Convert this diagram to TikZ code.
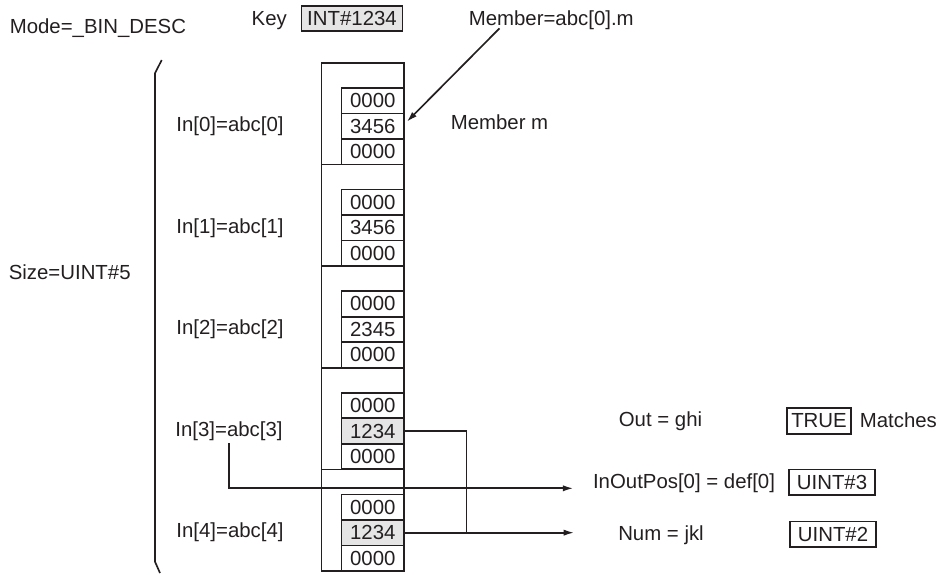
\documentclass[tikz,border=0pt]{standalone}
\usepackage{fontspec}
\setmainfont{Liberation Sans}
\usepackage{tikz}
\usetikzlibrary{positioning, arrows.meta, calc}
\definecolor{cellgray}{RGB}{229, 229, 229}
\definecolor{ink}{RGB}{35, 31, 32}

\tikzset{
  cell/.style={draw, minimum width=1.25cm, minimum height=0.51cm, inner sep=0pt},
  hitcell/.style={cell, fill=cellgray},
  valbox/.style={draw, minimum height=0.51cm, inner sep=0pt},
  lbl/.style={inner sep=0pt},
  flow/.style={-{Latex[length=6pt, width=3.6pt]}},
}

\begin{document}
\begin{tikzpicture}[font=\fontsize{11.6}{14}\selectfont, line width=0.95pt, draw=ink, text=ink]
  \useasboundingbox (0,0) rectangle (18.8,-11.48);

  % Header: mode, key and member
  \node[lbl, anchor=west] (mode) at (0.18,-0.56) {Mode=\_BIN\_DESC};
  \node[valbox, fill=cellgray, minimum width=2.02cm] (key) at (7.04,-0.37) {INT\#1234};
  \node[lbl, anchor=base east] (keylbl) at ($(key.base west)+(-0.26,0)$) {Key};
  \node[lbl, anchor=west] (member) at (9.36,-0.4) {Member=abc[0].m};
  \node[lbl, anchor=west] (memberm) at (9.0,-2.44) {Member m};

  % Size bracket
  \node[lbl, anchor=west] (size) at (0.16,-5.44) {Size=UINT\#5};
  \draw (3.234,-1.2) -- (3.10,-1.466) -- (3.10,-11.234) -- (3.20,-11.46);

  % Element 0
  \draw (6.43,-1.26) rectangle (8.08,-3.292);
  \node[cell] (c00) at (7.455,-2.015) {0000};
  \node[cell] (c01) at (7.455,-2.525) {3456};
  \node[cell] (c02) at (7.455,-3.035) {0000};
  \node[lbl] (in0) at (4.6,-2.525) {In[0]=abc[0]};

  % Element 1
  \draw (6.43,-3.292) rectangle (8.08,-5.324);
  \node[cell] (c10) at (7.455,-4.047) {0000};
  \node[cell] (c11) at (7.455,-4.557) {3456};
  \node[cell] (c12) at (7.455,-5.067) {0000};
  \node[lbl] (in1) at (4.6,-4.557) {In[1]=abc[1]};

  % Element 2
  \draw (6.43,-5.324) rectangle (8.08,-7.356);
  \node[cell] (c20) at (7.455,-6.079) {0000};
  \node[cell] (c21) at (7.455,-6.589) {2345};
  \node[cell] (c22) at (7.455,-7.099) {0000};
  \node[lbl] (in2) at (4.6,-6.589) {In[2]=abc[2]};

  % Element 3
  \draw (6.43,-7.356) rectangle (8.08,-9.388);
  \node[cell] (c30) at (7.455,-8.111) {0000};
  \node[hitcell] (c31) at (7.455,-8.621) {1234};
  \node[cell] (c32) at (7.455,-9.131) {0000};
  \node[lbl] (in3) at (4.58,-8.621) {In[3]=abc[3]};

  % Element 4
  \draw (6.43,-9.388) rectangle (8.08,-11.42);
  \node[cell] (c40) at (7.455,-10.143) {0000};
  \node[hitcell] (c41) at (7.455,-10.653) {1234};
  \node[cell] (c42) at (7.455,-11.163) {0000};
  \node[lbl] (in4) at (4.6,-10.653) {In[4]=abc[4]};

  % Results
  \node[lbl] (out) at (13.21,-8.43) {Out = ghi};
  \node[valbox, minimum width=1.27cm] (true) at (16.38,-8.42) {TRUE};
  \node[lbl, anchor=west] (matches) at (17.18,-8.40) {Matches};
  \node[lbl] (inoutpos) at (13.68,-9.66) {InOutPos[0] = def[0]};
  \node[valbox, minimum width=1.71cm] (pos) at (16.64,-9.645) {UINT\#3};
  \node[lbl] (num) at (13.22,-10.7) {Num = jkl};
  \node[valbox, minimum width=1.72cm] (cnt) at (16.66,-10.684) {UINT\#2};

  % Connectors
  \path (c41.east) ++(1.234,0) coordinate (jct) ++(2.152,0) coordinate (numend);
  \coordinate (posend) at (11.466,-9.766);
  \draw[flow] ([yshift=-1pt]in3.south) |- (posend);
  \draw[flow] (c31.east) -| (jct) -- (numend);
  \draw (c41.east) -- (jct);
  \draw[flow] ($(member.south west)+(0.63,0.04)$) -- ($(c01.east)+(0.04,0.09)$);
\end{tikzpicture}
\end{document}
